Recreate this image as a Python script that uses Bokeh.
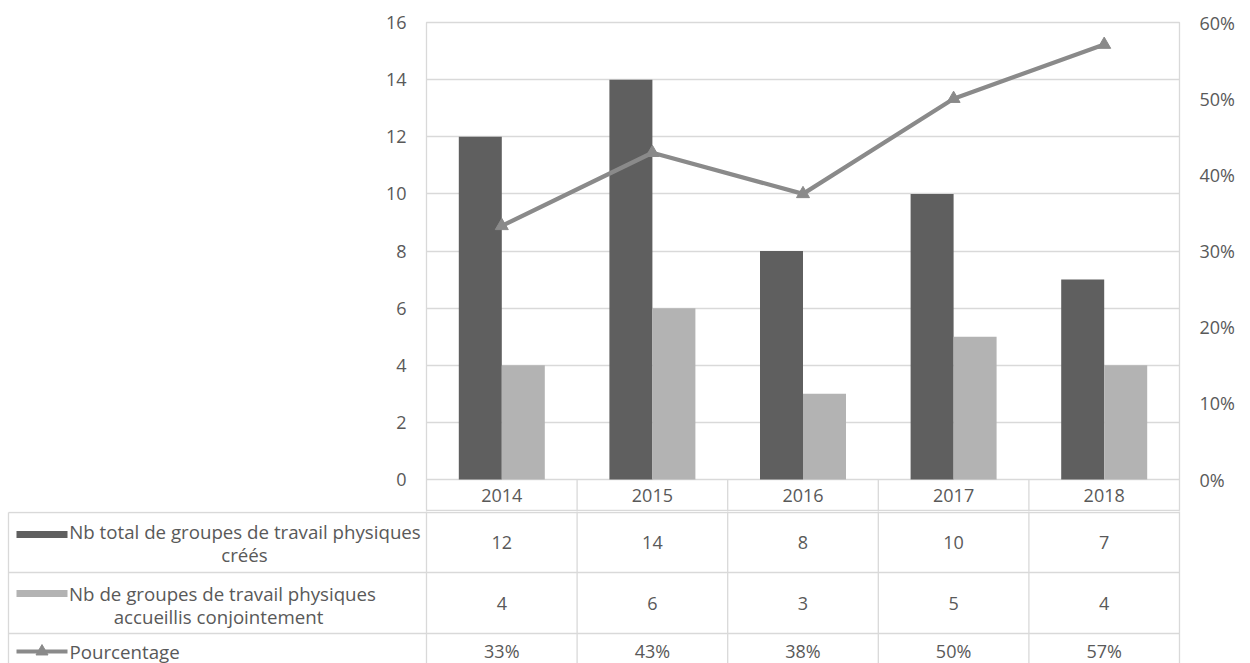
from bokeh.plotting import figure
from bokeh.models import (Range1d, FactorRange, LinearAxis, SingleIntervalTicker,
                          PrintfTickFormatter, ColumnDataSource)
from bokeh.transform import dodge
from bokeh.layouts import column
from bokeh.embed import file_html
from bokeh.resources import INLINE
from bokeh.core.properties import value

# ---------------- data ----------------
years = ["2014", "2015", "2016", "2017", "2018"]
total_groups = [12, 14, 8, 10, 7]
joint_groups = [4, 6, 3, 5, 4]
percentages = [33.3, 42.9, 37.5, 50.0, 57.1]
pct_labels = ["33%", "43%", "38%", "50%", "57%"]
series1_lines = ["Nb total de groupes de travail physiques", "créés"]
series2_lines = ["Nb de groupes de travail physiques", "accueillis conjointement"]
series3_name = "Pourcentage"

# ---------------- style ----------------
FONT = "Open Sans"
FSIZE = "18px"
LSIZE = "18.7px"
TXT = "#595959"
DARK = "#5f5f5f"
LIGHT = "#b3b3b3"
LINEC = "#8a8a8a"
GRID = "#d9d9d9"
GW = 1.3

n = len(years)
src = ColumnDataSource(dict(years=years, total=total_groups, joint=joint_groups,
                            pct=percentages, pct_lab=pct_labels,
                            xs=[i + 0.5 for i in range(n)],
                            tot_s=[str(v) for v in total_groups],
                            joint_s=[str(v) for v in joint_groups]))

# ---------------- chart (with the header row of the table) ----------------
PX_PER_UNIT = 457 / 16.0          # frame pixels per left-axis unit
HEADER_PX = 32                    # height of the year header row
y_low = -HEADER_PX / PX_PER_UNIT

p = figure(width=1250, height=511, x_range=FactorRange(*years, range_padding=0),
           y_range=Range1d(y_low, 16), output_backend="svg", toolbar_location=None,
           min_border_left=426, min_border_right=71, min_border_top=22,
           min_border_bottom=0, x_axis_location=None)
p.frame_align = False
p.extra_y_ranges = {"pct": Range1d(y_low * 60 / 16, 60)}
rax = LinearAxis(y_range_name="pct", ticker=SingleIntervalTicker(interval=10),
                 formatter=PrintfTickFormatter(format="%d%%"))
p.add_layout(rax, "right")
p.yaxis[0].ticker = SingleIntervalTicker(interval=2)
for ax in p.yaxis:
    ax.axis_line_color = None
    ax.major_tick_line_color = None
    ax.minor_tick_line_color = None
    ax.major_label_text_font = FONT
    ax.major_label_text_font_size = FSIZE
    ax.major_label_text_color = TXT
    ax.major_label_standoff = 14
p.xgrid.visible = False
p.ygrid.grid_line_color = GRID
p.ygrid.grid_line_width = GW
p.outline_line_color = GRID
p.outline_line_width = GW

bw = 0.2855
p.vbar(x=dodge("years", -bw / 2, range=p.x_range), top="total", bottom=0, width=bw,
       fill_color=DARK, line_color=None, source=src)
p.vbar(x=dodge("years", bw / 2, range=p.x_range), top="joint", bottom=0, width=bw,
       fill_color=LIGHT, line_color=None, source=src)
p.line(x="years", y="pct", y_range_name="pct", line_width=4.2, line_color=LINEC,
       line_join="round", source=src)
p.scatter(x="years", y="pct", y_range_name="pct", marker="triangle", size=13,
          fill_color=LINEC, line_color=LINEC, source=src)

# header row: cell separators and year labels
p.segment(x0=list(range(1, n)), x1=list(range(1, n)), y0=[y_low] * (n - 1),
          y1=[0] * (n - 1), line_color=GRID, line_width=GW)
p.text(x="xs", y=y_low / 2, text="years", source=src,
       text_font=value(FONT), text_font_size=FSIZE, text_color=TXT,
       text_baseline="middle", text_align="center")

# ---------------- data table body ----------------
COLW = 753 / 5.0
def px2x(px):
    return (px - 426) / COLW

t = figure(width=1250, height=152, x_range=Range1d(px2x(6), px2x(1181)),
           y_range=Range1d(151, -1), output_backend="svg", toolbar_location=None,
           min_border_left=6, min_border_right=69, min_border_top=0,
           min_border_bottom=0, x_axis_location=None, y_axis_location=None)
t.frame_align = False
t.grid.visible = False
t.outline_line_color = None

row_bounds = [0, 60, 121, 153]
left_x = px2x(8)
t.segment(x0=[left_x] * 3, x1=[5] * 3, y0=row_bounds[0:3], y1=row_bounds[0:3],
          line_color=GRID, line_width=GW)
t.segment(x0=list(range(n + 1)), x1=list(range(n + 1)), y0=[-2] * (n + 1),
          y1=[160] * (n + 1), line_color=GRID, line_width=GW)
t.segment(x0=[left_x], x1=[left_x], y0=[0], y1=[160], line_color=GRID, line_width=GW)

def tstyle(**kw):
    d = dict(text_font=value(FONT), text_font_size=FSIZE, text_color=TXT,
             text_baseline="middle", text_align="center")
    d.update(kw)
    return d

t.text(x="xs", y=(row_bounds[0] + row_bounds[1]) / 2, text="tot_s", source=src, **tstyle())
t.text(x="xs", y=(row_bounds[1] + row_bounds[2]) / 2, text="joint_s", source=src, **tstyle())
t.text(x="xs", y=138, text="pct_lab", source=src, **tstyle())

# left header labels
t.text(x=[px2x(244.5), px2x(244)], y=[19, 42], text=series1_lines,
       **tstyle(text_font_size=LSIZE))
t.text(x=[px2x(222), px2x(218)], y=[81, 104], text=series2_lines,
       **tstyle(text_font_size=LSIZE))
t.text(x=[px2x(69)], y=[139], text=[series3_name],
       **tstyle(text_align="left", text_font_size=LSIZE))

# legend keys
t.quad(left=[px2x(16)], right=[px2x(67)], top=[18.5], bottom=[25.5],
       fill_color=DARK, line_color=None)
t.quad(left=[px2x(16)], right=[px2x(67)], top=[77.5], bottom=[84.5],
       fill_color=LIGHT, line_color=None)
t.line(x=[px2x(16), px2x(67)], y=[139, 139], line_width=4, line_color=LINEC)
t.scatter(x=[px2x(41.5)], y=[139], marker="triangle", size=12,
          fill_color=LINEC, line_color=LINEC)

layout = column(p, t, spacing=0)
open("out.html", "w").write(file_html(layout, INLINE))
